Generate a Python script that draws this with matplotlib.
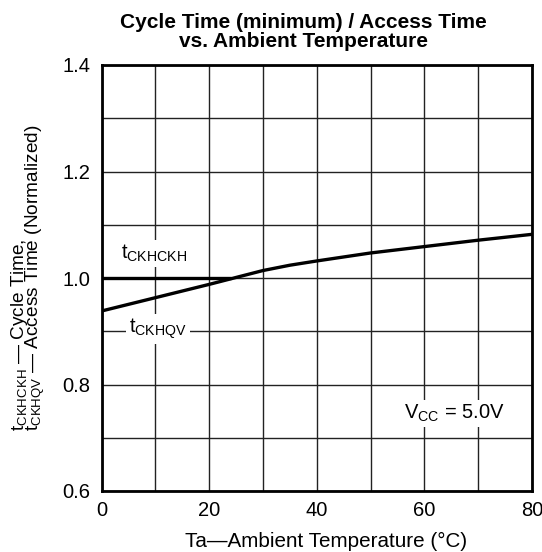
import matplotlib
matplotlib.use("Agg")
import matplotlib.pyplot as plt
import numpy as np

plt.rcParams['font.family'] = ['Liberation Sans', 'DejaVu Sans']
plt.rcParams['mathtext.fontset'] = 'custom'
plt.rcParams['mathtext.rm'] = 'Liberation Sans'
plt.rcParams['mathtext.it'] = 'Liberation Sans'

# Data
cycle_temp = [0, 24]
cycle_val = [1.0, 1.0]
access_temp = [0, 10, 20, 25, 30, 35, 40, 50, 60, 70, 80]
access_val = [0.938, 0.963, 0.988, 1.001, 1.014, 1.024, 1.032, 1.047, 1.059, 1.071, 1.082]
x_ticks = [0, 20, 40, 60, 80]
y_ticks = [0.6, 0.8, 1.0, 1.2, 1.4]
ylabel_lines = [r'$\mathregular{t_{CKHCKH}}$ — Cycle Time,',
                r'$\mathregular{t_{CKHQV}}$ — Access Time (Normalized)']

fig = plt.figure(figsize=(5.42, 5.52), dpi=100)
ax = fig.add_axes([101.5 / 542, 1 - 491 / 552, 430.5 / 542, 426 / 552])

ax.set_xlim(0, 80)
ax.set_ylim(0.6, 1.4)
ax.set_xticks(x_ticks)
ax.set_xticks(np.arange(0, 81, 10), minor=True)
ax.set_yticks(y_ticks)
ax.set_yticks(np.arange(0.6, 1.41, 0.1), minor=True)
ax.grid(True, which='both', color='#222222', linewidth=1.0)
ax.set_axisbelow(True)
ax.tick_params(which='both', length=0, labelsize=14.5)
ax.tick_params(axis='y', pad=8)
ax.tick_params(axis='x', pad=7)
ax.set_xticklabels([str(v) for v in x_ticks])
ax.set_yticklabels([f"{v:.1f}" for v in y_ticks])
for s in ax.spines.values():
    s.set_linewidth(2)

ax.plot(cycle_temp, cycle_val, color='black', lw=2.4, solid_capstyle='butt', zorder=3)
ax.plot(access_temp, access_val, color='black', lw=2.4, zorder=3)

bbox = dict(facecolor='white', edgecolor='none', pad=2)
ax.text(3.7, 1.046, r'$\mathregular{t_{CKHCKH}}$', fontsize=14.5, ha='left', va='center', bbox=bbox, zorder=2.5)
ax.text(10.5, 0.904, r'$\mathregular{t_{CKHQV}}$', fontsize=14.5, ha='center', va='center', bbox=bbox, zorder=2.5)
ax.text(65.6, 0.746, r'$\mathregular{V_{CC}}$ = 5.0V', fontsize=14.5, ha='center', va='center', bbox=bbox, zorder=2.5)

ax.set_xlabel('Ta—Ambient Temperature (°C)', fontsize=14.9, labelpad=9)
ax.xaxis.label.set_x(0.521)

# two-line y label: baselines placed explicitly, both starting at the same height
for xb, line in zip([24.5, 39], ylabel_lines):
    fig.text(xb / 542, 1 - 431 / 552, line, rotation=90, rotation_mode='anchor',
             fontsize=13.7, ha='left', va='baseline')

ax.set_title('Cycle Time (minimum) / Access Time\nvs. Ambient Temperature', fontsize=15,
             fontweight='bold', linespacing=1.0, pad=13, x=0.47)

fig.savefig('out.png', dpi=100)
